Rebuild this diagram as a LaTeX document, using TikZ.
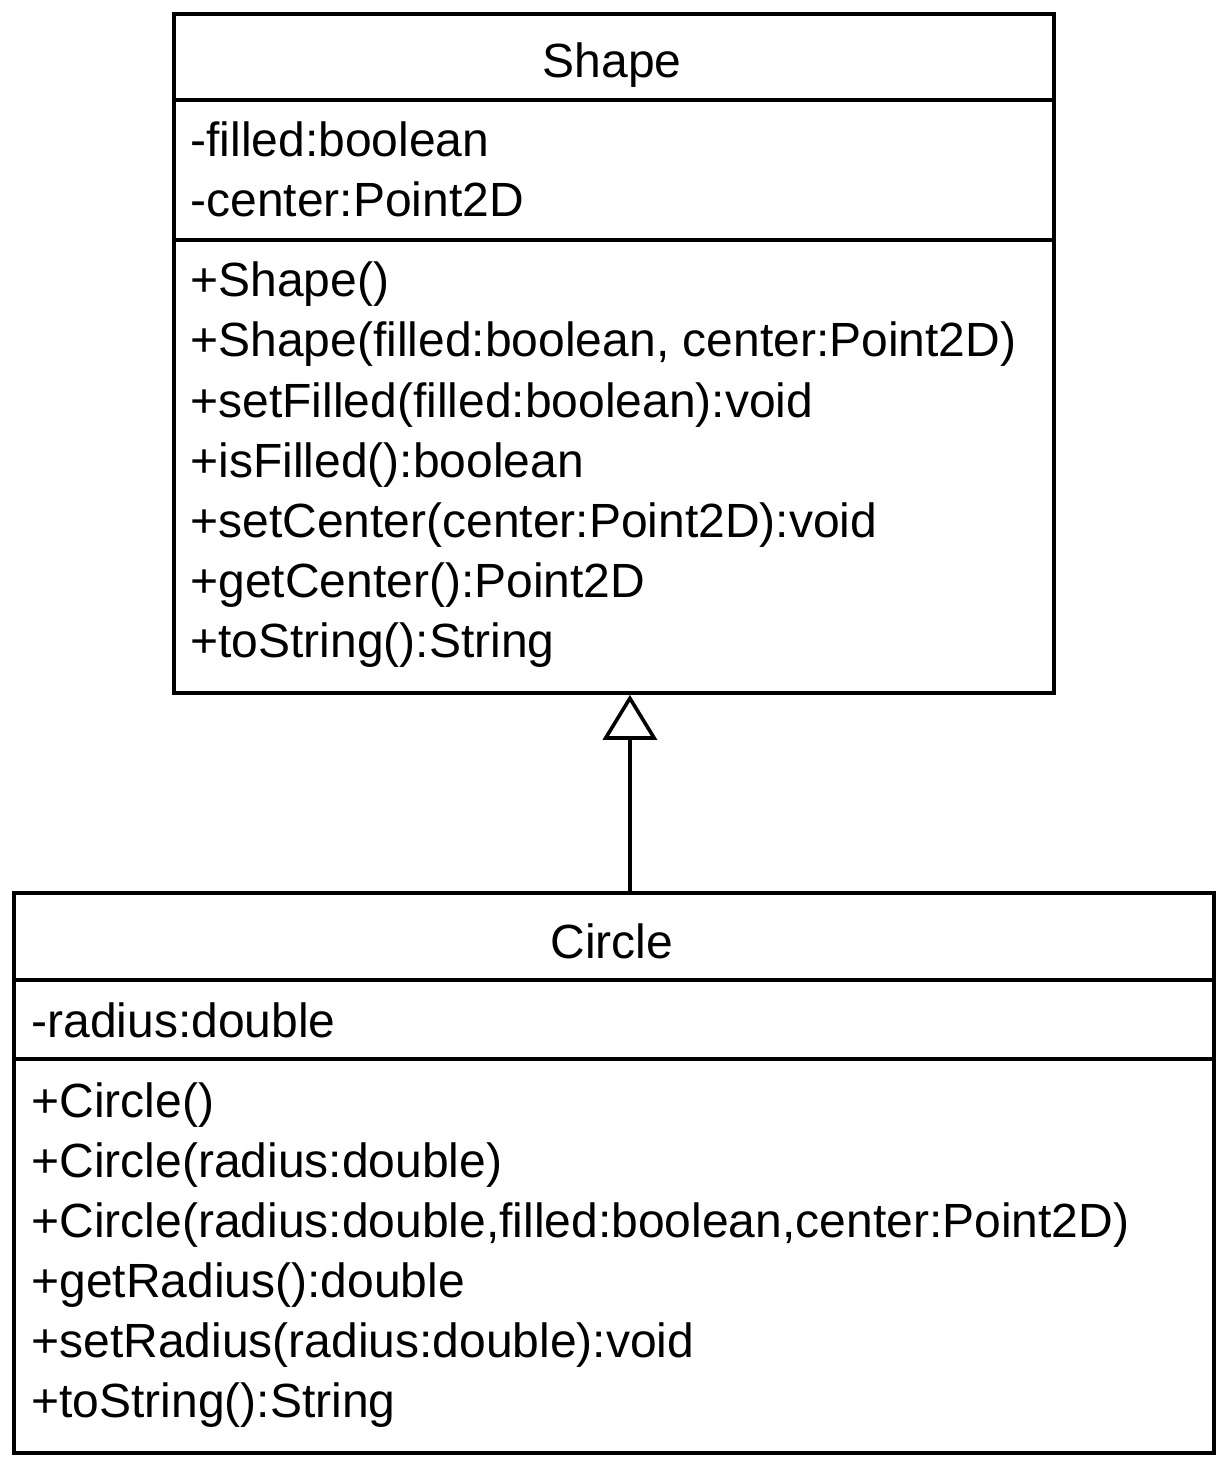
\documentclass[tikz,border=0pt]{standalone}
\usepackage{fontspec}
\setmainfont{Liberation Sans}
\usepackage{tikz}
\usetikzlibrary{arrows.meta,positioning}
\tikzset{
  classbox/.style={rectangle, draw=black, line width=1.9pt, anchor=north west, inner sep=0pt},
  divider/.style={draw=black, line width=1.8pt},
  classname/.style={anchor=base, inner sep=0pt, font=\fontsize{24}{30}\selectfont},
  member/.style={anchor=base west, inner sep=0pt, font=\fontsize{24}{30}\selectfont},
  extends/.style={-{Triangle[open, length=22.5pt, width=27pt, fill=white]}, line width=1.8pt, draw=black}
}

\begin{document}
\begin{tikzpicture}[x=0.5pt, y=-0.5pt]
  \useasboundingbox (0,0) rectangle (1220,1460);
  % superclass
  \node[classbox, minimum width=440pt, minimum height=339.5pt] (shape) at (172,12) {};
  \draw[divider] (shape.west |- 0,100) -- (shape.east |- 0,100);
  \draw[divider] (shape.west |- 0,240) -- (shape.east |- 0,240);
  \node[classname] (shapeName) at (612,78) {Shape};
  \node[member] (shapeA1) at (190,157) {-filled:boolean};
  \node[member] (shapeA2) at (190,217) {-center:Point2D};
  \node[member] (shapeM1) at (190,297) {+Shape()};
  \node[member] (shapeM2) at (190,357) {+Shape(filled:boolean, center:Point2D)};
  \node[member] (shapeM3) at (190,417) {+setFilled(filled:boolean):void};
  \node[member] (shapeM4) at (190,477) {+isFilled():boolean};
  \node[member] (shapeM5) at (190,537) {+setCenter(center:Point2D):void};
  \node[member] (shapeM6) at (190,597) {+getCenter():Point2D};
  \node[member] (shapeM7) at (190,657) {+toString():String};
  % subclass
  \node[classbox, minimum width=600pt, minimum height=280pt] (circle) at (12,891) {};
  \draw[divider] (circle.west |- 0,980) -- (circle.east |- 0,980);
  \draw[divider] (circle.west |- 0,1059) -- (circle.east |- 0,1059);
  \node[classname] (circleName) at (612,958) {Circle};
  \node[member] (circleA1) at (31,1037) {-radius:double};
  \node[member] (circleM1) at (31,1117) {+Circle()};
  \node[member] (circleM2) at (31,1177) {+Circle(radius:double)};
  \node[member] (circleM3) at (31,1237) {+Circle(radius:double,filled:boolean,center:Point2D)};
  \node[member] (circleM4) at (31,1297) {+getRadius():double};
  \node[member] (circleM5) at (31,1357) {+setRadius(radius:double):void};
  \node[member] (circleM6) at (31,1417) {+toString():String};
  % inheritance
  \draw[extends] ([xshift=8pt]circle.north) -- ([xshift=8pt]shape.south);
\end{tikzpicture}
\end{document}
